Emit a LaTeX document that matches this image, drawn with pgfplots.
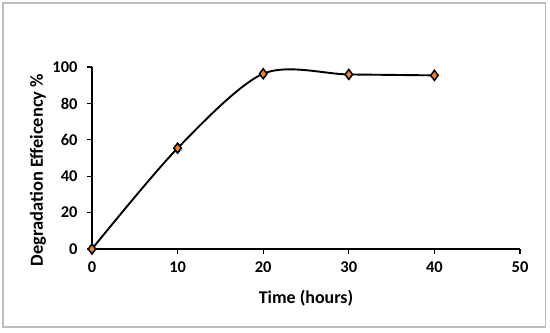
\documentclass[border=0pt]{standalone}
\usepackage{pgfplots}
\pgfplotsset{compat=1.18}
\usepackage{fontspec}
\setmainfont{Carlito}
\definecolor{mkorange}{HTML}{F58220}
\definecolor{framegray}{HTML}{BEBEBE}
\begin{document}
\begin{tikzpicture}[x=1bp,y=1bp]
\useasboundingbox (-92,-83) rectangle (458,249);
\draw[framegray,line width=1.5bp] (-89,-78) rectangle (453.5,246);
\begin{axis}[
  at={(0,0)}, anchor=origin,
  scale only axis,
  width=428bp, height=182bp,
  xmin=0, xmax=50, ymin=0, ymax=100,
  xtick={0,10,...,50}, ytick={0,20,...,100},
  axis lines=left,
  axis line style={line width=1.3bp, -},
  tick style={line width=1.3bp, black},
  tick align=outside,
  major tick length=5bp,
  ticklabel style={font=\fontsize{16.5}{18}\selectfont\bfseries},
  yticklabel style={xshift=-6bp},
  xticklabel style={yshift=-4bp},
  /pgf/number format/assume math mode=true,
  xlabel={\fontsize{18}{20}\selectfont\bfseries Time (hours)},
  ylabel={\fontsize{18.5}{20}\selectfont\bfseries Degradation Effeicency \%},
  xlabel style={at={(axis description cs:0.5,0)}, anchor=center, yshift=-49bp},
  ylabel style={at={(axis description cs:-0.126,0.434)}, anchor=center},
  clip=false,
]
\addplot[black, line width=1.9bp, smooth, tension=0.5,
  mark=diamond*, mark size=5bp,
  mark options={fill=mkorange, draw=black, line width=1.5bp}]
  coordinates {(0,0) (10,55.4) (20,96.3) (30,95.9) (40,95.4)};
\end{axis}
\end{tikzpicture}
\end{document}
